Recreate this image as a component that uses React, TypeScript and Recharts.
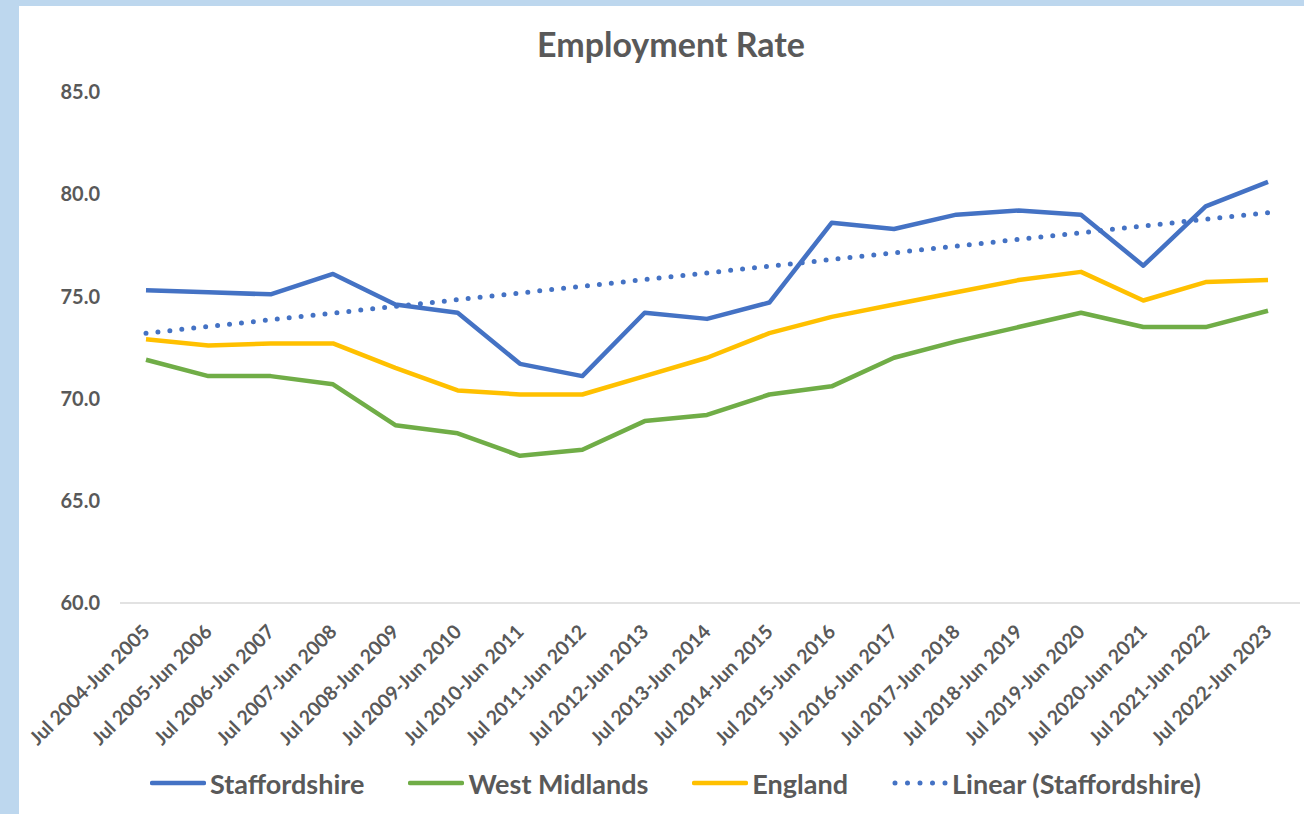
import { LineChart, Line, XAxis, YAxis, ReferenceLine, Legend } from "recharts";

const periods = [
  "Jul 2004-Jun 2005", "Jul 2005-Jun 2006", "Jul 2006-Jun 2007", "Jul 2007-Jun 2008",
  "Jul 2008-Jun 2009", "Jul 2009-Jun 2010", "Jul 2010-Jun 2011", "Jul 2011-Jun 2012",
  "Jul 2012-Jun 2013", "Jul 2013-Jun 2014", "Jul 2014-Jun 2015", "Jul 2015-Jun 2016",
  "Jul 2016-Jun 2017", "Jul 2017-Jun 2018", "Jul 2018-Jun 2019", "Jul 2019-Jun 2020",
  "Jul 2020-Jun 2021", "Jul 2021-Jun 2022", "Jul 2022-Jun 2023",
];

const staffordshire = [75.3, 75.2, 75.1, 76.1, 74.6, 74.2, 71.7, 71.1, 74.2, 73.9, 74.7, 78.6, 78.3, 79.0, 79.2, 79.0, 76.5, 79.4, 80.6];
const westMidlands = [71.9, 71.1, 71.1, 70.7, 68.7, 68.3, 67.2, 67.5, 68.9, 69.2, 70.2, 70.6, 72.0, 72.8, 73.5, 74.2, 73.5, 73.5, 74.3];
const england = [72.9, 72.6, 72.7, 72.7, 71.5, 70.4, 70.2, 70.2, 71.1, 72.0, 73.2, 74.0, 74.6, 75.2, 75.8, 76.2, 74.8, 75.7, 75.8];

// Excel trendline end points
const trendStart = 73.2;
const trendEnd = 79.1;

const yTicks = [60, 65, 70, 75, 80, 85];

const legendItems = [
  { name: "Staffordshire", color: "#4472C4", dotted: false },
  { name: "West Midlands", color: "#70AD47", dotted: false },
  { name: "England", color: "#FFC000", dotted: false },
  { name: "Linear (Staffordshire)", color: "#4472C4", dotted: true },
];

const data = periods.map((p, i) => ({
  period: p,
  staffordshire: staffordshire[i],
  westMidlands: westMidlands[i],
  england: england[i],
}));

const FONT = "Lato, 'Open Sans', sans-serif";
const GREY = "#595959";

function PeriodTick(props: any) {
  const { x, y, payload } = props;
  return (
    <g transform={`translate(${x + 5},${y + 22})`}>
      <text
        transform="rotate(-45)"
        textAnchor="end"
        fill={GREY}
        fontFamily={FONT}
        fontWeight={700}
        fontSize={19.5}
      >
        {payload.value}
      </text>
    </g>
  );
}

function ChartLegend() {
  return (
    <div
      style={{
        display: "flex",
        justifyContent: "flex-start",
        alignItems: "center",
        height: 30,
        gap: 44,
        paddingLeft: 131,
        fontFamily: FONT,
        fontWeight: 700,
        fontSize: 27,
        color: GREY,
      }}
    >
      {legendItems.map((item) => (
        <div key={item.name} style={{ display: "flex", alignItems: "center", gap: 4 }}>
          <svg width={56} height={10}>
            {item.dotted ? (
              <line x1={3} y1={5} x2={54} y2={5} stroke={item.color} strokeWidth={5}
                strokeDasharray="0 12.5" strokeLinecap="round" />
            ) : (
              <line x1={2} y1={5} x2={54} y2={5} stroke={item.color} strokeWidth={4.5}
                strokeLinecap="round" />
            )}
          </svg>
          <span>{item.name}</span>
        </div>
      ))}
    </div>
  );
}

export default function App() {
  return (
    <div style={{ position: "absolute", left: 0, top: 0, width: 1304, height: 814, background: "#BDD7EE", overflow: "hidden" }}>
      <div style={{ position: "absolute", left: 19, top: 6, width: 1285, height: 808, background: "#fff" }}>
        <div
          style={{
            position: "absolute", left: 0, top: 18, width: 1304, textAlign: "center",
            fontFamily: FONT, fontWeight: 700, fontSize: 34, color: GREY, lineHeight: "40px",
          }}
        >
          Employment Rate
        </div>
        <LineChart width={1285} height={808} data={data} margin={{ top: 86, right: 4, left: 0, bottom: 16 }}>
          <XAxis
            dataKey="period"
            interval={0}
            tick={<PeriodTick />}
            tickLine={false}
            axisLine={{ stroke: "#D9D9D9", strokeWidth: 1.5 }}
            padding={{ left: 26, right: 32 }}
            height={165}
          />
          <YAxis
            domain={[60, 85]}
            ticks={yTicks}
            tickFormatter={(v: number) => v.toFixed(1)}
            axisLine={false}
            tickLine={false}
            width={101}
            tickMargin={14}
            tick={{ fill: GREY, fontFamily: FONT, fontWeight: 700, fontSize: 20 }}
          />
          <ReferenceLine
            segment={[
              { x: periods[0], y: trendStart },
              { x: periods[periods.length - 1], y: trendEnd },
            ]}
            stroke="#4472C4"
            strokeWidth={5}
            strokeDasharray="0 12"
            strokeLinecap="round"
            ifOverflow="visible"
          />
          <Line type="linear" dataKey="westMidlands" stroke="#70AD47" strokeWidth={4.5} dot={false} strokeLinejoin="round" isAnimationActive={false} />
          <Line type="linear" dataKey="england" stroke="#FFC000" strokeWidth={4.5} dot={false} strokeLinejoin="round" isAnimationActive={false} />
          <Line type="linear" dataKey="staffordshire" stroke="#4472C4" strokeWidth={4.5} dot={false} strokeLinejoin="round" isAnimationActive={false} />
          <Legend verticalAlign="bottom" height={30} content={() => <ChartLegend />} />
        </LineChart>
      </div>
    </div>
  );
}
